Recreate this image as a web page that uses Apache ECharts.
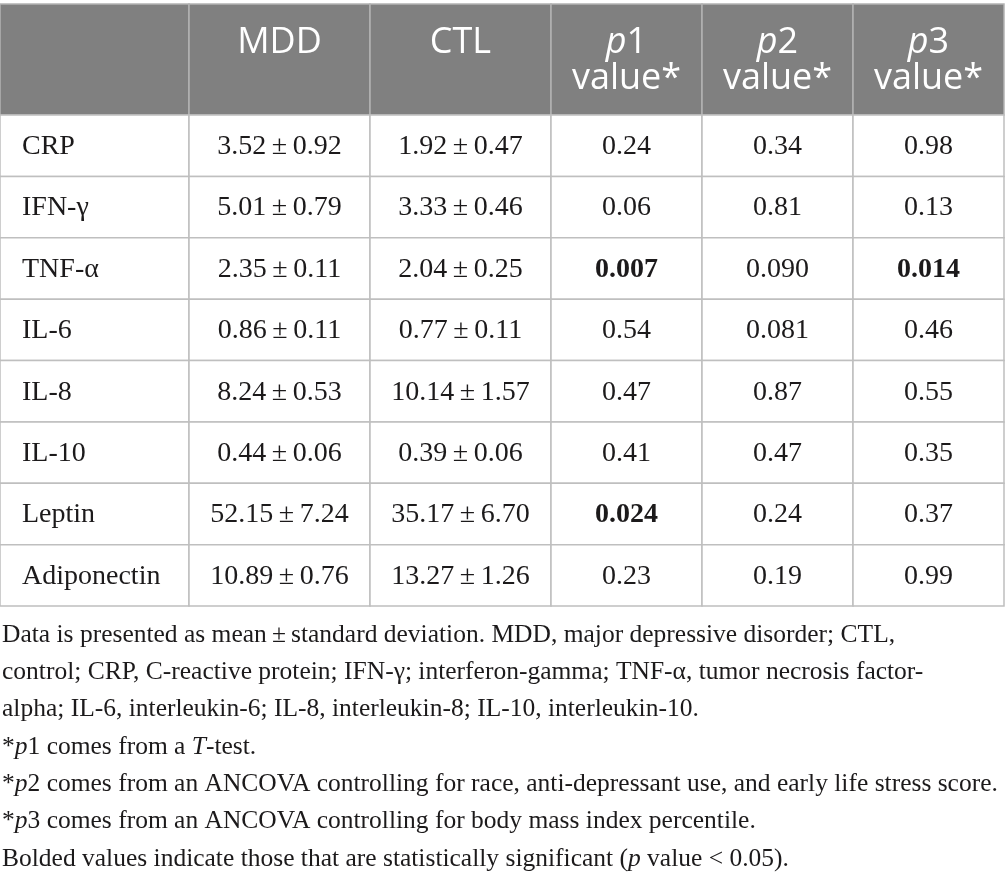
<!DOCTYPE html>
<html>
<head>
<meta charset="UTF-8">
<title>Inflammatory markers MDD vs CTL</title>
<script src="https://cdn.jsdelivr.net/npm/echarts@6/dist/echarts.min.js"></script>
<style>
html, body { margin: 0; padding: 0; background: #fff; }
#main { width: 1005px; height: 884px; }
</style>
</head>
<body>
<div id="main"></div>
<script>
// table content
var markers = ['CRP', 'IFN-γ', 'TNF-α', 'IL-6', 'IL-8', 'IL-10', 'Leptin', 'Adiponectin'];
var mddMean = ['3.52', '5.01', '2.35', '0.86', '8.24', '0.44', '52.15', '10.89'];
var mddSd = ['0.92', '0.79', '0.11', '0.11', '0.53', '0.06', '7.24', '0.76'];
var ctlMean = ['1.92', '3.33', '2.04', '0.77', '10.14', '0.39', '35.17', '13.27'];
var ctlSd = ['0.47', '0.46', '0.25', '0.11', '1.57', '0.06', '6.70', '1.26'];
var p1 = ['0.24', '0.06', '0.007', '0.54', '0.47', '0.41', '0.024', '0.23'];
var p2 = ['0.34', '0.81', '0.090', '0.081', '0.87', '0.47', '0.24', '0.19'];
var p3 = ['0.98', '0.13', '0.014', '0.46', '0.55', '0.35', '0.37', '0.99'];
var headers = ['', 'MDD', 'CTL', 'p1', 'p2', 'p3'];
var notes = [
	'Data is presented as mean\u2009±\u2009standard deviation. MDD, major depressive disorder; CTL,',
	'control; CRP, C-reactive protein; IFN-γ; interferon-gamma; TNF-α, tumor necrosis factor-',
	'alpha; IL-6, interleukin-6; IL-8, interleukin-8; IL-10, interleukin-10.',
	'*{i|p}1 comes from a {i|T}-test.',
	'*{i|p}2 comes from an ANCOVA controlling for race, anti-depressant use, and early life stress score.',
	'*{i|p}3 comes from an ANCOVA controlling for body mass index percentile.',
	'Bolded values indicate those that are statistically significant ({i|p} value < 0.05).'
];

// layout
var colEdges = [0, 189, 370, 551, 702, 853, 1004];
var serif = 'Liberation Serif';
var sans = 'Open Sans';
var ink = '#1c1a1b';
var rule = '#bfbfbf';

function cellText(c, r) {
	if (c == 0) return markers[r];
	if (c == 1) return mddMean[r] + '\u2009±\u2009' + mddSd[r];
	if (c == 2) return ctlMean[r] + '\u2009±\u2009' + ctlSd[r];
	return [p1, p2, p3][c - 3][r];
}

var bodyData = [];
for (var r = 0; r < markers.length; r++) {
	for (var c = 0; c < 6; c++) bodyData.push([c, r]);
}
var headData = [];
for (var c = 0; c < 6; c++) headData.push([c, 0]);

function renderBody(params, api) {
	var c = api.value(0), r = api.value(1);
	var a = api.coord([colEdges[c], r]);
	var b = api.coord([colEdges[c + 1], r]);
	var h = api.size([0, 1])[1];
	var txt = cellText(c, r);
	var bold = c >= 3 && parseFloat(txt) < 0.05;
	return {
		type: 'group',
		children: [{
			type: 'rect',
			shape: { x: a[0], y: a[1] - h / 2, width: b[0] - a[0], height: h },
			style: { fill: '#fff', stroke: rule, lineWidth: 1.5 }
		}, {
			type: 'text',
			style: {
				x: c == 0 ? a[0] + 22 : (a[0] + b[0]) / 2,
				y: a[1] + 1,
				text: txt,
				fill: ink,
				font: (bold ? 'bold ' : '') + '28px "' + serif + '"',
				textAlign: c == 0 ? 'left' : 'center',
				textVerticalAlign: 'middle'
			}
		}]
	};
}

function renderHead(params, api) {
	var c = api.value(0);
	var a = api.coord([colEdges[c], 0]);
	var b = api.coord([colEdges[c + 1], 0]);
	var h = api.size([0, 1])[1];
	var top = a[1] - h / 2;
	var label = headers[c];
	var kids = [{
		type: 'rect',
		shape: { x: a[0], y: top, width: b[0] - a[0], height: h },
		style: { fill: '#808080', stroke: '#b3b3b3', lineWidth: 1.5 }
	}];
	if (c >= 3) {
		kids.push({
			type: 'text',
			style: {
				x: (a[0] + b[0]) / 2, y: top + 21,
				text: '{i|p}{n|' + label.charAt(1) + '}\n{n|value*}',
				textAlign: 'center', textVerticalAlign: 'top',
				rich: {
					i: { fontFamily: sans, fontSize: 36, fontStyle: 'italic', fill: '#fff', lineHeight: 36 },
					n: { fontFamily: sans, fontSize: 36, fill: '#fff', lineHeight: 36 }
				}
			}
		});
	} else if (label) {
		kids.push({
			type: 'text',
			style: {
				x: (a[0] + b[0]) / 2, y: top + 39,
				text: label, fill: '#fff',
				font: '36px "' + sans + '"',
				textAlign: 'center', textVerticalAlign: 'middle'
			}
		});
	}
	return { type: 'group', children: kids };
}

var noteGraphics = notes.map(function (line, i) {
	return {
		type: 'text',
		left: 2,
		top: 622 + i * 37.3,
		style: {
			text: line,
			fill: ink,
			font: '25.5px "' + serif + '"',
			rich: {
				i: { fontFamily: serif, fontSize: 25.5, fontStyle: 'italic', fill: ink }
			}
		}
	};
});

var myChart = echarts.init(document.getElementById('main'));
var option = {
	animation: false,
	grid: [
		{ left: 0, width: 1004, top: 4, height: 111 },
		{ left: 0, width: 1004, top: 115, height: 491 }
	],
	xAxis: [
		{ gridIndex: 0, type: 'value', min: 0, max: 1004, show: false },
		{ gridIndex: 1, type: 'value', min: 0, max: 1004, show: false }
	],
	yAxis: [
		{ gridIndex: 0, type: 'category', data: ['header'], show: false },
		{ gridIndex: 1, type: 'category', data: markers, inverse: true, show: false }
	],
	graphic: noteGraphics,
	series: [{
		type: 'custom',
		xAxisIndex: 0, yAxisIndex: 0,
		renderItem: renderHead,
		data: headData
	}, {
		type: 'custom',
		xAxisIndex: 1, yAxisIndex: 1,
		renderItem: renderBody,
		data: bodyData
	}]
};
myChart.setOption(option);
</script>
</body>
</html>
